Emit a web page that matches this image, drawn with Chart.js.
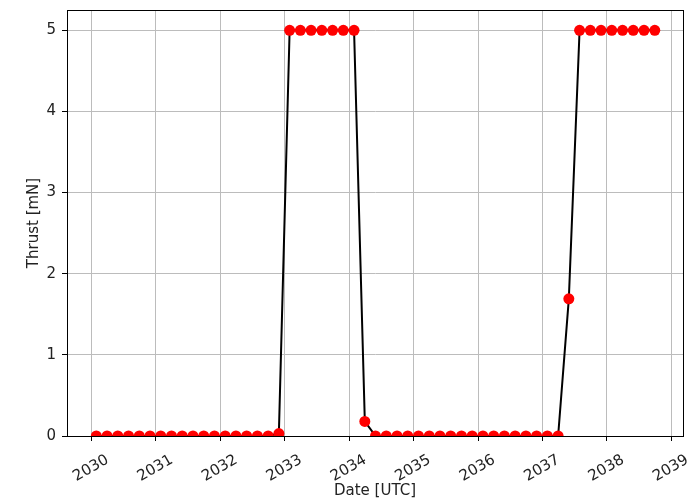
<!DOCTYPE html>
<html>
<head>
<meta charset="utf-8">
<script src="https://cdn.jsdelivr.net/npm/chart.js@4.4.1/dist/chart.umd.min.js"></script>
<style>
  html, body { margin: 0; padding: 0; background: #ffffff; }
  #wrap { width: 695px; height: 503px; }
</style>
</head>
<body>
<div id="wrap"><canvas id="c" width="695" height="503"></canvas></div>
<script>
// Thrust profile sampled every two months (epochs in decimal years, UTC)
const epochs = [
  2030.075, 2030.242, 2030.408, 2030.575, 2030.742, 2030.908,
  2031.075, 2031.242, 2031.408, 2031.575, 2031.742, 2031.908,
  2032.075, 2032.242, 2032.408, 2032.575, 2032.742, 2032.908,
  2033.075, 2033.242, 2033.408, 2033.575, 2033.742, 2033.908,
  2034.075, 2034.242, 2034.408, 2034.575, 2034.742, 2034.908,
  2035.075, 2035.242, 2035.408, 2035.575, 2035.742, 2035.908,
  2036.075, 2036.242, 2036.408, 2036.575, 2036.742, 2036.908,
  2037.075, 2037.242, 2037.408, 2037.575, 2037.742, 2037.908,
  2038.075, 2038.242, 2038.408, 2038.575, 2038.742
];
const thrustMilliNewton = [
  0, 0, 0, 0, 0, 0,
  0, 0, 0, 0, 0, 0,
  0, 0, 0, 0, 0, 0.03,
  5, 5, 5, 5, 5, 5,
  5, 0.18, 0, 0, 0, 0,
  0, 0, 0, 0, 0, 0,
  0, 0, 0, 0, 0, 0,
  0, 0, 1.69, 5, 5, 5,
  5, 5, 5, 5, 5
];
const yearTicks = [2030, 2031, 2032, 2033, 2034, 2035, 2036, 2037, 2038, 2039];
const thrustTicks = [0, 1, 2, 3, 4, 5];

const xRange = [2029.62, 2039.18];
const yRange = [0, 5.25];

Chart.defaults.font.family = "'DejaVu Sans', sans-serif";
Chart.defaults.font.size = 15;
Chart.defaults.color = '#222222';

// white background and a black frame around the plotting area
const framePlugin = {
  id: 'frame',
  beforeDraw(chart) {
    const ctx = chart.ctx;
    ctx.save();
    ctx.fillStyle = '#ffffff';
    ctx.fillRect(0, 0, chart.width, chart.height);
    ctx.restore();
  },
  afterDatasetsDraw(chart) {
    const a = chart.chartArea;
    const ctx = chart.ctx;
    ctx.save();
    ctx.strokeStyle = '#000000';
    ctx.lineWidth = 1;
    ctx.strokeRect(Math.round(a.left) + 0.5, Math.round(a.top) + 0.5,
                   Math.round(a.right - a.left), Math.round(a.bottom - a.top));
    ctx.restore();
  }
};

const points = epochs.map((t, i) => ({ x: t, y: thrustMilliNewton[i] }));

new Chart(document.getElementById('c'), {
  type: 'line',
  data: {
    datasets: [{
      data: points,
      borderColor: '#000000',
      borderWidth: 2,
      tension: 0,
      pointRadius: 5.5,
      pointHoverRadius: 5.5,
      pointBackgroundColor: '#ff0000',
      pointBorderColor: '#ff0000',
      pointBorderWidth: 0,
      clip: 0
    }]
  },
  options: {
    responsive: false,
    devicePixelRatio: 1,
    animation: false,
    events: [],
    layout: { padding: { top: 10, right: 12, left: 0, bottom: 0 } },
    plugins: {
      legend: { display: false },
      tooltip: { enabled: false },
      title: { display: false }
    },
    scales: {
      x: {
        type: 'linear',
        min: xRange[0],
        max: xRange[1],
        afterBuildTicks: s => { s.ticks = yearTicks.map(v => ({ value: v })); },
        afterFit: s => { s.height = 67; s.paddingLeft = 0; s.paddingRight = 0; },
        ticks: {
          autoSkip: false,
          minRotation: 30,
          maxRotation: 30,
          labelOffset: 16,
          padding: 10,
          color: '#222222',
          font: { size: 15 },
          callback: v => String(v)
        },
        grid: {
          color: '#bcbcbc',
          lineWidth: 1,
          tickColor: '#000000',
          tickLength: 5,
          tickWidth: 1
        },
        border: { display: true, color: '#000000', width: 1 },
        title: {
          display: true,
          text: 'Date [UTC]',
          color: '#222222',
          font: { size: 15 },
          padding: { top: 4, bottom: 3 }
        }
      },
      y: {
        type: 'linear',
        min: yRange[0],
        max: yRange[1],
        afterBuildTicks: s => { s.ticks = thrustTicks.map(v => ({ value: v })); },
        afterFit: s => { s.width = 67; s.paddingTop = 0; s.paddingBottom = 0; },
        ticks: {
          padding: 6,
          color: '#222222',
          font: { size: 15 },
          callback: v => String(v)
        },
        grid: {
          color: '#bcbcbc',
          lineWidth: 1,
          tickColor: '#000000',
          tickLength: 5,
          tickWidth: 1
        },
        border: { display: true, color: '#000000', width: 1 },
        title: {
          display: true,
          text: 'Thrust [mN]',
          color: '#222222',
          font: { size: 15 },
          padding: { top: 25, bottom: 4 }
        }
      }
    }
  },
  plugins: [framePlugin]
});
</script>
</body>
</html>
